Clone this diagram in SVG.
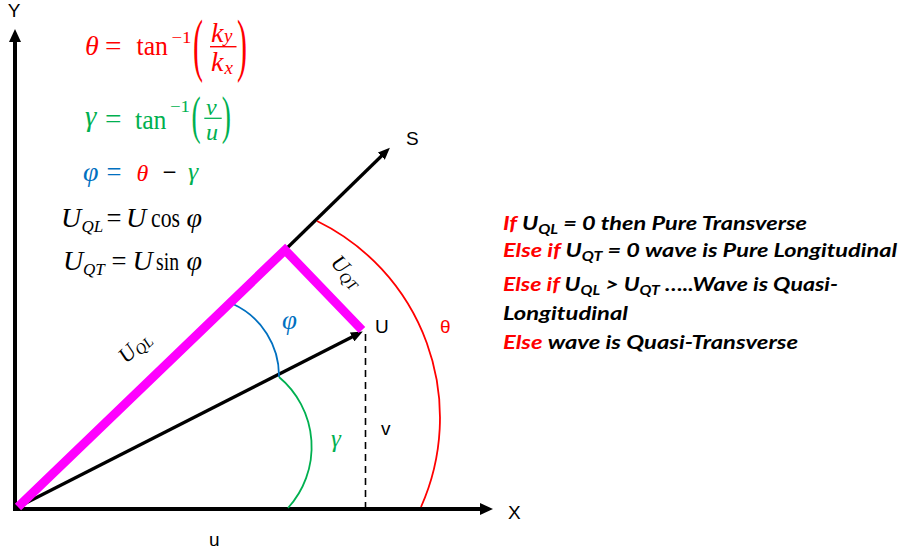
<svg xmlns="http://www.w3.org/2000/svg" width="904" height="557" viewBox="0 0 904 557">
<style>
.m{font-family:"Liberation Serif","DejaVu Serif",serif;font-style:italic}
.up{font-style:normal}
.lab{font-family:"Liberation Sans",Arial,sans-serif;font-size:19px;fill:#000}
.rt{font-family:Lato,"Liberation Sans",sans-serif;font-weight:bold;font-style:italic;font-size:19px;fill:#000}
.red{fill:#FF0000}
.grn{fill:#00B050}
.blu{fill:#0070C0}
.blk{fill:#000}
</style>
<defs>
<marker id="ah" markerUnits="userSpaceOnUse" markerWidth="13" markerHeight="12" refX="1" refY="6" orient="auto">
<path d="M0,0 L13,6 L0,12 Z" fill="#000"/>
</marker>
<marker id="ahs" markerUnits="userSpaceOnUse" markerWidth="12" markerHeight="10" refX="1" refY="5" orient="auto">
<path d="M0,0 L12,5 L0,10 Z" fill="#000"/>
</marker>
</defs>
<rect width="904" height="557" fill="#fff"/>

<g id="connectors" fill="none">
<line id="y-axis" x1="15" y1="511" x2="15" y2="41" stroke="#000" stroke-width="4" marker-end="url(#ah)"/>
<line id="x-axis" x1="13" y1="509" x2="481" y2="509" stroke="#000" stroke-width="4" marker-end="url(#ah)"/>
<line id="u-vector" x1="16" y1="508" x2="353" y2="336.5" stroke="#000" stroke-width="3.2" marker-end="url(#ahs)"/>
<line id="s-axis" x1="285" y1="250" x2="382" y2="155.5" stroke="#000" stroke-width="3.2" marker-end="url(#ahs)"/>
<line id="v-dash" x1="365.5" y1="334" x2="365.5" y2="507" stroke="#000" stroke-width="1.6" stroke-dasharray="7 5"/>
<path id="theta-arc" d="M317,221 A219,219 0 0 1 421,507" stroke="#FF0000" stroke-width="1.8"/>
<path id="gamma-arc" d="M279,377 A91,91 0 0 1 288,508" stroke="#00B050" stroke-width="1.8"/>
<path id="phi-arc" d="M233,304 A79,79 0 0 1 279,377" stroke="#0070C0" stroke-width="1.8"/>
<polyline id="uql-uqt" points="18,507 285,250 362,330" stroke="#FF00FF" stroke-width="9" stroke-linejoin="miter"/>
</g>

<g id="axis-labels">
<text class="lab" x="14" y="17" text-anchor="middle">Y</text>
<text class="lab" x="406" y="145">S</text>
<text class="lab" x="375" y="333">U</text>
<text class="lab red" x="440" y="333" font-size="21">θ</text>
<text class="lab" x="381" y="435">v</text>
<text class="lab" x="508" y="519">X</text>
<text class="lab" x="209" y="546">u</text>
</g>

<g id="angle-labels">
<text class="m grn" x="331" y="447" font-size="25">γ</text>
<text class="m blu" x="282" y="329" font-size="27">φ</text>
</g>

<g id="component-labels">
<text class="m blk" transform="translate(139,352) rotate(-44)" text-anchor="middle" font-size="22">U<tspan font-size="15" dy="4">QL</tspan></text>
<text class="m blk" transform="translate(342,276) rotate(46)" text-anchor="middle" font-size="22">U<tspan font-size="15" dy="4">QT</tspan></text>
</g>

<g id="eq-theta" class="red">
<text class="m" x="85" y="55" font-size="28">θ</text>
<text class="m up" x="105" y="55" font-size="28" textLength="16.5" lengthAdjust="spacingAndGlyphs">=</text>
<text class="m up" x="136.5" y="55" font-size="28" textLength="31.5" lengthAdjust="spacingAndGlyphs">tan</text>
<text class="m up" x="171.5" y="43" font-size="17" textLength="20" lengthAdjust="spacingAndGlyphs">−1</text>
<text class="m up" transform="translate(193,67.5) scale(1.2,2.75)" font-size="25">(</text>
<text class="m" x="211" y="42" font-size="28">k</text>
<text class="m" x="224" y="42" font-size="19">y</text>
<line x1="210" y1="46.7" x2="236.5" y2="46.7" stroke="#FF0000" stroke-width="1.4"/>
<text class="m" x="211" y="70.5" font-size="28">k</text>
<text class="m" x="224.5" y="74" font-size="19">x</text>
<text class="m up" transform="translate(237,67.5) scale(1.2,2.75)" font-size="25">)</text>
</g>

<g id="eq-gamma" class="grn">
<text class="m" x="85" y="126" font-size="29">γ</text>
<text class="m up" x="105" y="128" font-size="28" textLength="16.5" lengthAdjust="spacingAndGlyphs">=</text>
<text class="m up" x="135" y="129" font-size="28" textLength="31.5" lengthAdjust="spacingAndGlyphs">tan</text>
<text class="m up" x="170" y="112" font-size="17" textLength="20" lengthAdjust="spacingAndGlyphs">−1</text>
<text class="m up" transform="translate(191.5,133.4) scale(1.1,2.1)" font-size="25">(</text>
<text class="m" x="206" y="115" font-size="24">v</text>
<line x1="204.3" y1="118.3" x2="221.7" y2="118.3" stroke="#00B050" stroke-width="1.3"/>
<text class="m" x="206" y="139.5" font-size="24">u</text>
<text class="m up" transform="translate(221.7,133.4) scale(1.1,2.1)" font-size="25">)</text>
</g>

<g id="eq-phi">
<text class="m blu" x="83" y="181" font-size="28">φ</text>
<text class="m up blu" x="106.5" y="181" font-size="27" textLength="15" lengthAdjust="spacingAndGlyphs">=</text>
<text class="m red" x="136.5" y="180.5" font-size="24">θ</text>
<text class="m up blk" x="162.5" y="181" font-size="27" textLength="14" lengthAdjust="spacingAndGlyphs">−</text>
<text class="m grn" x="188" y="180" font-size="26">γ</text>
</g>

<g id="eq-uql" class="blk">
<text class="m" x="61" y="226.5" font-size="28">U</text>
<text class="m" x="81.5" y="231.5" font-size="17">QL</text>
<text class="m up" x="106.5" y="226.5" font-size="28" textLength="15" lengthAdjust="spacingAndGlyphs">=</text>
<text class="m" x="126" y="226.5" font-size="28">U</text>
<text class="m up" x="151" y="226.5" font-size="28" textLength="29" lengthAdjust="spacingAndGlyphs">cos</text>
<text class="m" x="186.5" y="226.5" font-size="28">φ</text>
</g>

<g id="eq-uqt" class="blk">
<text class="m" x="63" y="270" font-size="28">U</text>
<text class="m" x="83" y="275" font-size="17">QT</text>
<text class="m up" x="111.5" y="270" font-size="28" textLength="15" lengthAdjust="spacingAndGlyphs">=</text>
<text class="m" x="132.5" y="270" font-size="28">U</text>
<text class="m up" x="156" y="270" font-size="26" textLength="23" lengthAdjust="spacingAndGlyphs">sin</text>
<text class="m" x="186.5" y="270" font-size="28">φ</text>
</g>

<g id="rules">
<text class="rt" x="503" y="230" textLength="304" lengthAdjust="spacingAndGlyphs"><tspan class="red">If</tspan> U<tspan font-size="13" dy="4">QL</tspan><tspan dy="-4"> = 0 then Pure Transverse</tspan></text>
<text class="rt" x="503" y="257" textLength="394" lengthAdjust="spacingAndGlyphs"><tspan class="red">Else if</tspan> U<tspan font-size="13" dy="4">QT</tspan><tspan dy="-4"> = 0 wave is Pure Longitudinal</tspan></text>
<text class="rt" x="503" y="290.5" textLength="335" lengthAdjust="spacingAndGlyphs"><tspan class="red">Else if</tspan> U<tspan font-size="13" dy="4">QL</tspan><tspan dy="-4"> &gt; U</tspan><tspan font-size="13" dy="4">QT</tspan><tspan dy="-4"> …..Wave is Quasi-</tspan></text>
<text class="rt" x="503" y="320" textLength="125" lengthAdjust="spacingAndGlyphs">Longitudinal</text>
<text class="rt" x="503" y="348.5" textLength="295" lengthAdjust="spacingAndGlyphs"><tspan class="red">Else</tspan> wave is Quasi-Transverse</text>
</g>
</svg>
